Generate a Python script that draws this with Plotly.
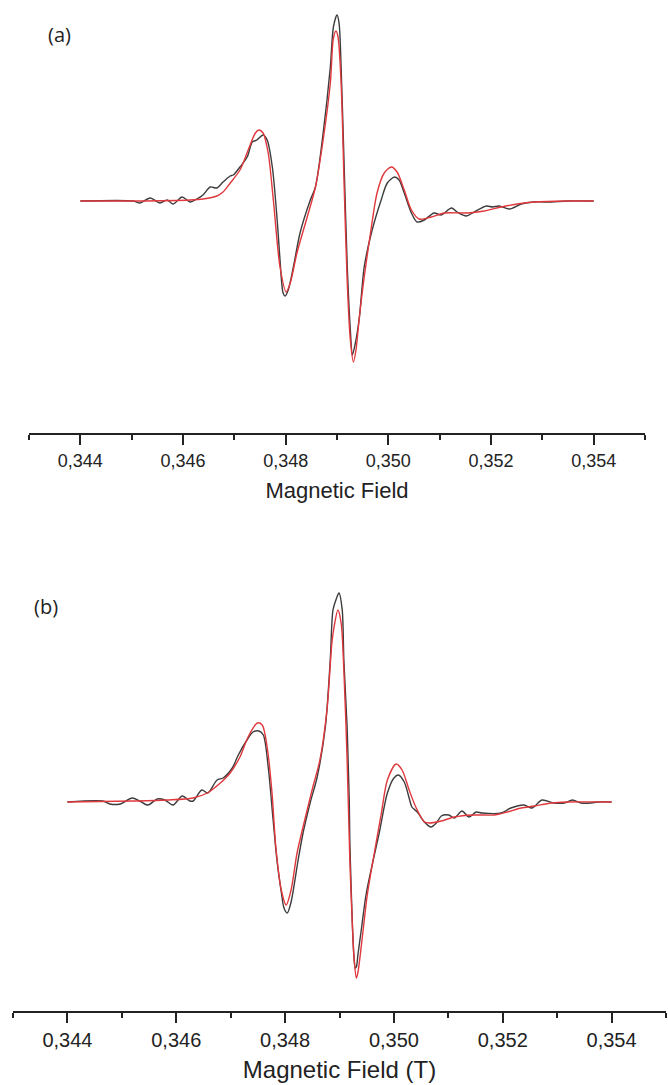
import plotly.graph_objects as go

# ---------------- data (Magnetic field in T, intensity in a.u.) ----------------
# Panel (a)
a_exp_B = [0.34400, 0.34503, 0.34516, 0.34536, 0.34555, 0.34569, 0.34581, 0.34598, 0.34614, 0.34627,
           0.34639, 0.34653, 0.34666, 0.34678, 0.34692, 0.34698, 0.34711, 0.34725, 0.34735, 0.34744,
           0.34756, 0.34764, 0.34774, 0.34783, 0.34789, 0.34795, 0.34799, 0.34805, 0.34815, 0.34828,
           0.34848, 0.34858, 0.34873, 0.34887, 0.34893, 0.34900, 0.34904, 0.34908, 0.34914, 0.34920,
           0.34926, 0.34930, 0.34935, 0.34943, 0.34953, 0.34967, 0.34986, 0.34998, 0.35012, 0.35021,
           0.35031, 0.35045, 0.35056, 0.35070, 0.35089, 0.35103, 0.35123, 0.35134, 0.35152, 0.35167,
           0.35191, 0.35203, 0.35216, 0.35236, 0.35259, 0.35284, 0.35318, 0.35349, 0.35400]
a_exp_I = [0, 0, -2, 3, -2, 1, -3, 4, -1, 2,
           6, 14, 13, 19, 25, 26, 34, 44, 59, 61,
           66, 61, 34, -16, -59, -92, -95, -89, -66, -32,
           1, 14, 68, 134, 174, 186, 178, 134, 34, -66,
           -129, -154, -144, -119, -66, -32, 1, 18, 24, 21,
           8, -12, -21, -19, -12, -14, -7, -11, -15, -11,
           -5, -6, -5, -8, -3, -1, -1, 0, 0]

a_fit_B = [0.34400, 0.34503, 0.34614, 0.34639, 0.34666, 0.34678, 0.34692, 0.34711, 0.34727, 0.34741,
           0.34748, 0.34756, 0.34766, 0.34776, 0.34789, 0.34801, 0.34809, 0.34822, 0.34842, 0.34858,
           0.34873, 0.34887, 0.34893, 0.34898, 0.34902, 0.34908, 0.34914, 0.34920, 0.34926, 0.34932,
           0.34937, 0.34943, 0.34953, 0.34967, 0.34978, 0.34992, 0.35006, 0.35017, 0.35031, 0.35045,
           0.35060, 0.35084, 0.35109, 0.35154, 0.35187, 0.35220, 0.35251, 0.35284, 0.35349, 0.35400]
a_fit_I = [0, 0, 1, 2, 5, 9, 18, 31, 51, 68,
           71, 68, 48, 1, -66, -91, -82, -52, -16, 14,
           61, 118, 163, 170, 164, 118, 14, -82, -139, -161,
           -149, -119, -76, -26, 8, 28, 34, 29, 11, -9,
           -18, -16, -12, -12, -10, -6, -3, -1, 0, 0]

# Panel (b)
b_exp_B = [0.34400, 0.34465, 0.34478, 0.34497, 0.34519, 0.34533, 0.34548, 0.34565, 0.34579, 0.34594,
           0.34611, 0.34625, 0.34631, 0.34647, 0.34658, 0.34675, 0.34686, 0.34703, 0.34714, 0.34730,
           0.34741, 0.34752, 0.34760, 0.34769, 0.34778, 0.34785, 0.34793, 0.34798, 0.34804, 0.34811,
           0.34824, 0.34833, 0.34846, 0.34859, 0.34874, 0.34883, 0.34888, 0.34894, 0.34899, 0.34905,
           0.34908, 0.34914, 0.34916, 0.34918, 0.34919, 0.34921, 0.34923, 0.34925, 0.34927, 0.34929,
           0.34931, 0.34934, 0.34940, 0.34949, 0.34962, 0.34973, 0.34988, 0.35000, 0.35008, 0.35019,
           0.35028, 0.35033, 0.35043, 0.35056, 0.35068, 0.35078, 0.35087, 0.35101, 0.35111, 0.35125,
           0.35138, 0.35151, 0.35162, 0.35197, 0.35215, 0.35239, 0.35254, 0.35272, 0.35294, 0.35313,
           0.35328, 0.35344, 0.35362, 0.35374, 0.35400]
b_exp_I = [0, 1, -2, -2, 4, 1, -3, 3, 2, -3,
           6, 1, 1, 12, 9, 22, 24, 34, 47, 62,
           70, 71, 67, 35, -18, -58, -90, -106, -111, -100,
           -58, -31, -1, 25, 75, 142, 192, 203, 209, 192,
           142, 75, 38, 0, -40, -78, -112, -140, -158, -166,
           -165, -152, -128, -92, -58, -31, 9, 24, 27, 20,
           4, -5, -10, -20, -25, -21, -14, -13, -16, -9,
           -15, -10, -11, -11, -6, -3, -6, 2, -1, -1,
           2, -1, -1, 0, 0]

b_fit_B = [0.34400, 0.34521, 0.34583, 0.34631, 0.34657, 0.34681, 0.34699, 0.34717, 0.34732, 0.34749,
           0.34758, 0.34767, 0.34776, 0.34783, 0.34793, 0.34802, 0.34811, 0.34822, 0.34833, 0.34851,
           0.34864, 0.34877, 0.34886, 0.34890, 0.34897, 0.34903, 0.34908, 0.34914, 0.34919, 0.34923,
           0.34927, 0.34931, 0.34934, 0.34942, 0.34951, 0.34964, 0.34977, 0.34988, 0.35004, 0.35015,
           0.35028, 0.35041, 0.35056, 0.35065, 0.35087, 0.35111, 0.35147, 0.35184, 0.35208, 0.35234,
           0.35258, 0.35289, 0.35318, 0.35400]
b_fit_I = [0, 1, 2, 4, 9, 19, 29, 45, 65, 79,
           77, 55, 9, -45, -88, -103, -88, -51, -25, 15,
           42, 92, 159, 175, 192, 179, 132, 42, -58, -115,
           -158, -176, -170, -135, -93, -51, -11, 22, 38, 32,
           12, -6, -20, -21, -19, -15, -13, -13, -10, -6,
           -4, -1, 0, 0]

tick_vals = [0.344, 0.346, 0.348, 0.350, 0.352, 0.354]
tick_text = ["0,344", "0,346", "0,348", "0,350", "0,352", "0,354"]
x_titles = ["Magnetic Field", "Magnetic Field (T)"]
panel_labels = ["(a)", "(b)"]

# ---------------- figure ----------------
W, H = 668, 1085
BLACK = "#3c3c3c"
RED = "#e0383c"

fig = go.Figure()
for B, I, col, ax in [(a_exp_B, a_exp_I, BLACK, ("x", "y")),
                      (a_fit_B, a_fit_I, RED, ("x", "y")),
                      (b_exp_B, b_exp_I, BLACK, ("x2", "y2")),
                      (b_fit_B, b_fit_I, RED, ("x2", "y2"))]:
    fig.add_trace(go.Scatter(x=B, y=I, mode="lines", xaxis=ax[0], yaxis=ax[1],
                             line=dict(color=col, width=1.4, shape="spline", smoothing=0.8),
                             showlegend=False, hoverinfo="skip"))

def xaxis_cfg(domain, anchor, tickfs, titlefs, title, standoff):
    return dict(domain=domain, anchor=anchor, range=[0.343 - 1e-7, 0.355 + 1e-7],
                showline=True, linecolor="#222", linewidth=2, mirror=False,
                showgrid=False, zeroline=False,
                tickmode="array", tickvals=tick_vals, ticktext=tick_text,
                ticks="outside", ticklen=10, tickwidth=2, tickcolor="#222",
                ticklabelstandoff=0,
                minor=dict(tickmode="array", tickvals=[0.343, 0.345, 0.347, 0.349, 0.351, 0.353, 0.355],
                           ticks="outside", ticklen=5, tickwidth=2, tickcolor="#222"),
                tickfont=dict(family="Liberation Sans, Arial", size=tickfs, color="#222"),
                title=dict(text=title, standoff=standoff,
                           font=dict(family="Liberation Sans, Arial", size=titlefs, color="#222")))

def yaxis_cfg(domain, anchor, rng):
    return dict(domain=domain, anchor=anchor, range=rng, visible=False, fixedrange=True)

fig.update_layout(
    width=W, height=H, margin=dict(l=0, r=0, t=0, b=0),
    paper_bgcolor="white", plot_bgcolor="white",
    xaxis=xaxis_cfg([29 / W, 645 / W], "y", 18, 22, x_titles[0], 13),
    yaxis=yaxis_cfg([1 - 433 / H, 1 - 5 / H], "x", [-232, 196]),
    xaxis2=xaxis_cfg([13 / W, 666 / W], "y2", 20, 24, x_titles[1], 11),
    yaxis2=yaxis_cfg([1 - 1011 / H, 1 - 580 / H], "x2", [-209, 222]),
    annotations=[
        dict(text=panel_labels[0], x=46 / W, y=1 - 35 / H, xref="paper", yref="paper",
             xanchor="left", yanchor="middle", showarrow=False,
             font=dict(family="Open Sans", size=20, color="#222")),
        dict(text=panel_labels[1], x=32 / W, y=1 - 606 / H, xref="paper", yref="paper",
             xanchor="left", yanchor="middle", showarrow=False,
             font=dict(family="Open Sans", size=20, color="#222")),
    ],
)

fig.write_html("out.html")
